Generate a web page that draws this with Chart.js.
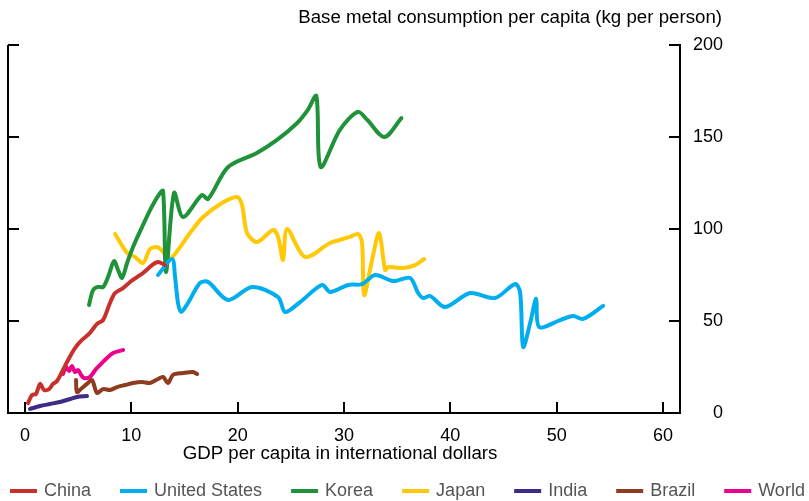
<!DOCTYPE html>
<html>
<head>
<meta charset="utf-8">
<script src="https://cdn.jsdelivr.net/npm/chart.js@4/dist/chart.umd.min.js"></script>
<style>
  html, body { margin: 0; padding: 0; background: #fff; }
  #wrap { width: 809px; height: 501px; }
</style>
</head>
<body>
<div id="wrap"><canvas id="chart" width="809" height="501"></canvas></div>
<script>
// GDP per capita (thousand intl $) and base metal consumption (kg per person)
const chinaX = [0.28, 0.66, 1.03, 1.41, 1.79, 2.26, 2.63, 3.01, 3.57, 4.05, 4.70, 5.36, 6.11, 6.77, 7.34, 7.99, 8.47, 9.22, 9.88, 10.54, 11.10, 11.95, 12.51, 13.17];
const chinaY = [5.4, 9.8, 10.3, 15.8, 12.5, 13.0, 15.8, 17.4, 23.4, 28.8, 35.3, 39.7, 43.5, 48.4, 50.5, 59.8, 65.2, 67.9, 71.2, 73.9, 76.1, 80.4, 82.1, 80.4];

const usX = [12.51, 13.83, 14.11, 14.39, 14.68, 15.33, 16.46, 17.22, 19.10, 21.35, 23.80, 24.46, 25.87, 27.94, 28.69, 30.39, 31.70, 32.93, 34.62, 36.22, 36.97, 37.44, 38.10, 39.51, 41.86, 44.21, 46.10, 46.57, 46.85, 47.51, 48.07, 48.35, 50.33, 51.55, 52.49, 54.37];
const usY = [75.0, 83.7, 73.9, 59.8, 54.9, 59.8, 70.7, 71.2, 61.4, 68.5, 63.0, 54.9, 60.3, 69.6, 65.8, 69.6, 70.1, 75.0, 71.7, 73.4, 65.2, 62.5, 63.6, 57.6, 65.2, 62.5, 70.1, 65.2, 35.9, 48.9, 62.0, 46.7, 50.5, 52.7, 51.1, 58.2];

const koreaX = [6.02, 6.40, 6.87, 7.34, 7.81, 8.37, 8.75, 9.13, 9.60, 10.16, 11.01, 11.76, 12.51, 12.98, 13.26, 14.02, 14.86, 16.65, 17.22, 19.1, 21.8, 23.7, 25.6, 26.6, 27.4, 27.8, 29.6, 31.3, 32.2, 33.8, 35.4];
const koreaY = [58.7, 66.8, 68.5, 68.5, 73.9, 82.6, 77.7, 73.4, 81.5, 90.2, 101.1, 110.3, 117.9, 120.7, 76.6, 119.6, 106.5, 118.5, 116.3, 133.7, 141.3, 148.4, 157.6, 164.7, 172.3, 133.7, 153.8, 163.6, 159.2, 150.0, 160.3];

const japanX = [8.47, 9.60, 10.35, 11.10, 11.76, 12.42, 12.98, 13.45, 14.02, 15.52, 16.75, 18.53, 19.94, 20.41, 20.88, 21.82, 23.33, 23.80, 24.27, 24.65, 26.34, 28.69, 30.57, 31.33, 31.70, 31.89, 32.64, 33.30, 33.87, 34.15, 35.56, 36.69, 37.54];
const japanY = [97.3, 87.0, 84.8, 81.5, 89.1, 90.2, 87.5, 83.7, 85.9, 97.8, 106.5, 114.1, 117.4, 113.0, 97.8, 92.9, 99.5, 95.7, 83.2, 100.0, 84.8, 92.4, 95.7, 97.3, 92.4, 64.1, 83.2, 97.8, 77.7, 79.3, 78.8, 80.4, 83.7];

const indiaX = [0.47, 1.41, 2.35, 3.29, 4.23, 4.89, 5.83];
const indiaY = [2.2, 3.8, 4.9, 6.0, 7.6, 8.7, 9.2];

const brazilX = [4.80, 4.89, 5.36, 5.83, 6.30, 6.77, 7.34, 8.0, 8.65, 9.41, 10.16, 11.0, 11.76, 12.51, 12.98, 13.45, 13.92, 14.86, 15.80, 16.18];
const brazilY = [17.9, 11.4, 13.6, 15.8, 17.9, 10.9, 13.0, 12.5, 14.1, 15.2, 16.3, 16.8, 16.3, 18.5, 19.6, 16.3, 20.7, 21.7, 22.3, 21.2];

const worldX = [3.57, 3.86, 4.14, 4.42, 4.70, 4.99, 5.27, 5.55, 6.11, 6.68, 7.24, 7.71, 8.28, 9.22];
const worldY = [21.2, 25.0, 22.8, 25.5, 22.3, 23.4, 20.7, 19.0, 19.6, 23.9, 27.2, 29.9, 32.6, 34.2];

const seriesNames = ['China', 'United States', 'Korea', 'Japan', 'India', 'Brazil', 'World'];
const xTicks = [0, 10, 20, 30, 40, 50, 60];
const yTicks = [0, 50, 100, 150, 200];

const colors = ['#C8312B', '#00AEEF', '#20923A', '#FFC907', '#3F2A87', '#8E3B1F', '#EC008C'];
const FONT = '"Liberation Sans", Arial, Helvetica, sans-serif';

function pts(xs, ys) { return xs.map((x, i) => ({ x: x, y: ys[i] })); }
const allData = [
  pts(chinaX, chinaY), pts(usX, usY), pts(koreaX, koreaY), pts(japanX, japanY),
  pts(indiaX, indiaY), pts(brazilX, brazilY), pts(worldX, worldY)
];

const datasets = seriesNames.map((name, i) => ({
  label: name,
  data: allData[i],
  showLine: true,
  borderColor: colors[i],
  backgroundColor: colors[i],
  borderWidth: 4,
  pointRadius: 0,
  tension: 0.3,
  borderCapStyle: 'round',
  borderJoinStyle: 'round'
}));

// inward ticks, left frame line, titles and a one-row legend
const decor = {
  id: 'decor',
  afterDraw(chart) {
    const ctx = chart.ctx;
    const a = chart.chartArea;
    const xs = chart.scales.x, ys = chart.scales.y;
    ctx.save();
    ctx.strokeStyle = '#000';
    ctx.lineWidth = 2;
    ctx.beginPath();
    ctx.moveTo(a.left, ys.getPixelForValue(200));
    ctx.lineTo(a.left, a.bottom + 1);
    xTicks.forEach(v => {
      const px = Math.round(xs.getPixelForValue(v));
      ctx.moveTo(px, a.bottom);
      ctx.lineTo(px, a.bottom - 11);
    });
    yTicks.forEach(v => {
      const py = Math.round(ys.getPixelForValue(v));
      ctx.moveTo(a.left, py);
      ctx.lineTo(a.left + 11, py);
      ctx.moveTo(a.right, py);
      ctx.lineTo(a.right - 11, py);
    });
    ctx.stroke();

    ctx.fillStyle = '#000';
    ctx.font = '18.7px ' + FONT;
    ctx.textBaseline = 'middle';
    ctx.textAlign = 'right';
    ctx.fillText('Base metal consumption per capita (kg per person)', 722, 18);
    ctx.textAlign = 'center';
    ctx.fillText('GDP per capita in international dollars', 340, 454);

    // legend
    ctx.font = '18px ' + FONT;
    ctx.textAlign = 'left';
    ctx.fillStyle = '#555';
    let x = 10;
    const y = 491;
    seriesNames.forEach((name, i) => {
      ctx.strokeStyle = colors[i];
      ctx.lineWidth = 4;
      ctx.beginPath();
      ctx.moveTo(x, y);
      ctx.lineTo(x + 27, y);
      ctx.stroke();
      ctx.fillText(name, x + 34, y);
      x += 34 + ctx.measureText(name).width + 29;
    });
    ctx.restore();
  }
};

new Chart(document.getElementById('chart'), {
  type: 'scatter',
  data: { datasets: datasets },
  options: {
    responsive: false,
    animation: false,
    layout: { padding: { top: 45, left: 8, right: 86, bottom: 0 } },
    plugins: { legend: { display: false }, tooltip: { enabled: false } },
    scales: {
      x: {
        type: 'linear',
        min: -1.6,
        max: 61.6,
        afterBuildTicks: s => { s.ticks = xTicks.map(v => ({ value: v })); },
        afterFit: s => { s.height = 88; },
        grid: { display: false, drawTicks: false },
        border: { display: true, color: '#000', width: 2 },
        ticks: { color: '#000', padding: 12, font: { family: FONT, size: 18 } }
      },
      y: {
        position: 'right',
        min: 0,
        max: 200,
        afterBuildTicks: s => { s.ticks = yTicks.map(v => ({ value: v })); },
        afterFit: s => { s.width = 43; },
        grid: { display: false, drawTicks: false },
        border: { display: true, color: '#000', width: 2 },
        ticks: { color: '#000', padding: 0, crossAlign: 'far', font: { family: FONT, size: 18 } }
      }
    }
  },
  plugins: [decor]
});
</script>
</body>
</html>
